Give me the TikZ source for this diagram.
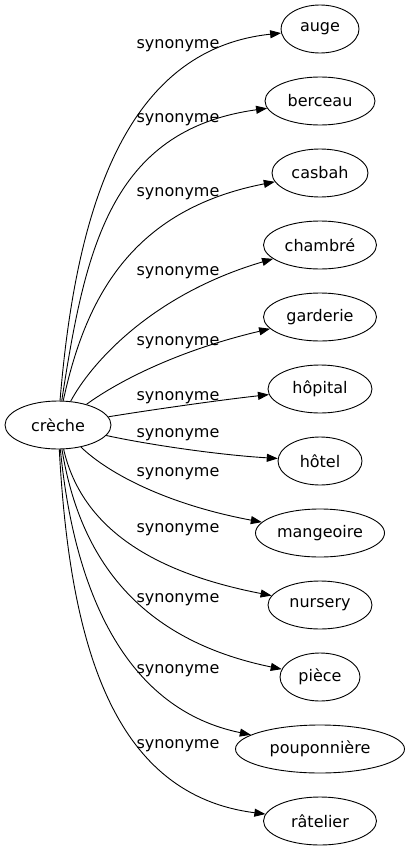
\documentclass[tikz,border=0pt]{standalone}
\usepackage{fontspec}
\setmainfont{DejaVu Sans}
\usetikzlibrary{shapes.geometric,arrows.meta}
\tikzset{
  ell/.style={draw, ellipse, line width=0.9pt, inner sep=0pt, minimum height=48pt, font=\fontsize{16}{19}\selectfont},
  syn/.style={font=\fontsize{16}{19}\selectfont, inner sep=0pt},
  edge/.style={line width=0.9pt, -{Triangle[length=11pt,width=8pt]}}
}
\begin{document}
\begin{tikzpicture}[x=1pt,y=-1pt]
\useasboundingbox (0,0) rectangle (410,851);
\node[ell, minimum width=106pt] (creche) at (58,425) {crèche};
\node[ell, minimum width=78pt] (auge) at (320,29) {auge};
\node[ell, minimum width=110pt] (berceau) at (320,101) {berceau};
\node[ell, minimum width=96pt] (casbah) at (320,173) {casbah};
\node[ell, minimum width=113pt] (chambre) at (320,245) {chambré};
\node[ell, minimum width=113pt] (garderie) at (320,317) {garderie};
\node[ell, minimum width=104pt] (hopital) at (320,389) {hôpital};
\node[ell, minimum width=84pt] (hotel) at (320,461) {hôtel};
\node[ell, minimum width=129pt] (mangeoire) at (320,533) {mangeoire};
\node[ell, minimum width=104pt] (nursery) at (320,605) {nursery};
\node[ell, minimum width=80pt] (piece) at (320,677) {pièce};
\node[ell, minimum width=169pt] (pouponniere) at (320,749) {pouponnière};
\node[ell, minimum width=113pt] (ratelier) at (320,821) {râtelier};

\draw[edge] (creche) .. controls (75,220) and (120,50) .. (auge);
\draw[edge] (creche) .. controls (85,250) and (110,130) .. (berceau);
\draw[edge] (creche) .. controls (85,300) and (130,210) .. (casbah);
\draw[edge] (creche) .. controls (90,365) and (150,295) .. (chambre);
\draw[edge] (creche) .. controls (120,380) and (180,350) .. (garderie);
\draw[edge] (creche) .. controls (150,410) and (220,400) .. (hopital);
\draw[edge] (creche) .. controls (150,445) and (220,455) .. (hotel);
\draw[edge] (creche) .. controls (110,475) and (170,505) .. (mangeoire);
\draw[edge] (creche) .. controls (80,520) and (140,570) .. (nursery);
\draw[edge] (creche) .. controls (80,560) and (140,640) .. (piece);
\draw[edge] (creche) .. controls (75,600) and (130,710) .. (pouponniere);
\draw[edge] (creche) .. controls (70,650) and (115,795) .. (ratelier);

\node[syn] (l1) at (178,46) {synonyme};
\node[syn] (l2) at (178,120) {synonyme};
\node[syn] (l3) at (178,194) {synonyme};
\node[syn] (l4) at (178,273) {synonyme};
\node[syn] (l5) at (178,343) {synonyme};
\node[syn] (l6) at (178,398) {synonyme};
\node[syn] (l7) at (178,435) {synonyme};
\node[syn] (l8) at (178,474) {synonyme};
\node[syn] (l9) at (178,530) {synonyme};
\node[syn] (l10) at (178,600) {synonyme};
\node[syn] (l11) at (178,671) {synonyme};
\node[syn] (l12) at (178,746) {synonyme};
\end{tikzpicture}
\end{document}
